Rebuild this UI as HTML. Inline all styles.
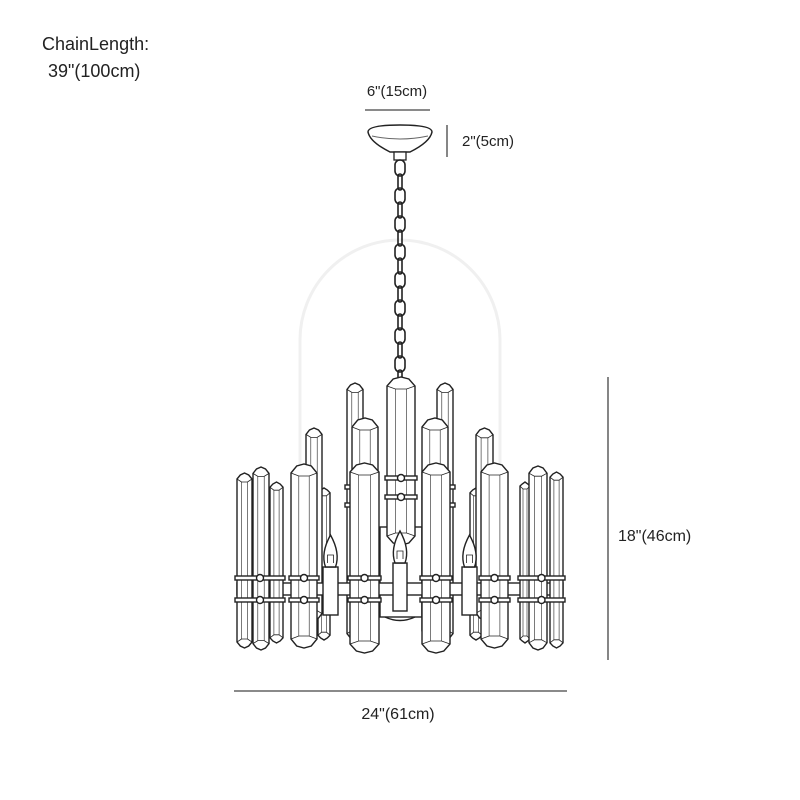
<!DOCTYPE html>
<html><head><meta charset="utf-8"><style>
html,body{margin:0;padding:0;background:#fff;}
svg{display:block;}
text{font-family:"Liberation Sans",sans-serif;fill:#222;}
</style></head><body>
<svg id="s" width="800" height="800" viewBox="0 0 800 800" xmlns="http://www.w3.org/2000/svg">
<path d="M300 520 V340 A100 100 0 0 1 500 340 V520" fill="none" stroke="#f0f0f0" stroke-width="3"/>
<text x="42" y="50" font-size="18">ChainLength:</text>
<text x="48" y="77" font-size="18">39"(100cm)</text>
<text x="397" y="96" font-size="15" text-anchor="middle">6"(15cm)</text>
<line x1="365" y1="110" x2="430" y2="110" stroke="#444" stroke-width="1.3"/>
<line x1="447" y1="125" x2="447" y2="157" stroke="#444" stroke-width="1.3"/>
<text x="462" y="146" font-size="15">2"(5cm)</text>
<line x1="608" y1="377" x2="608" y2="660" stroke="#444" stroke-width="1.3"/>
<text x="618" y="541" font-size="16">18"(46cm)</text>
<line x1="234" y1="691" x2="567" y2="691" stroke="#444" stroke-width="1.3"/>
<text x="398" y="719" font-size="16" text-anchor="middle">24"(61cm)</text>
<!-- canopy -->
<path d="M368 132 Q370 142 390 152 L410 152 Q430 142 432 132 Q432 125 400 125 Q368 125 368 132 Z" fill="#fff" stroke="#222" stroke-width="1.5"/>
<path d="M372 136 Q400 142 428 136" fill="none" stroke="#666" stroke-width="1"/>
<rect x="394" y="152" width="12" height="8" fill="#fff" stroke="#222" stroke-width="1.3"/>
<g id="chain" fill="none" stroke="#222" stroke-width="1.6"></g>
<g id="c" stroke="#222" stroke-width="1.4"></g>
</svg>
<script>
var ch=document.getElementById('chain'),ns='http://www.w3.org/2000/svg';
for(var y=160;y<380;y+=14){var e=document.createElementNS(ns,'rect');
var o=((y-160)/14)%2;e.setAttribute('x',o?398:395);e.setAttribute('y',y);e.setAttribute('width',o?4:10);e.setAttribute('height',16);e.setAttribute('rx',o?2:5);ch.appendChild(e);}
var g=document.getElementById('c');
function el(t,a){var e=document.createElementNS(ns,t);for(var k in a)e.setAttribute(k,a[k]);g.appendChild(e);return e;}
function cr(x1,x2,t,b){var w=x2-x1,m=x1+w/2,h=Math.min(9,w*0.4),q=w*0.22;
el('polygon',{points:[x1,t+h,x1+q,t+2,m,t,x2-q,t+2,x2,t+h,x2,b-h,x2-q,b-2,m,b,x1+q,b-2,x1,b-h].join(' '),fill:'#fff'});
el('polyline',{points:[x1,t+h,x1+w*.3,t+h+3,x2-w*.3,t+h+3,x2,t+h].join(' '),fill:'none','stroke-width':.8});
el('polyline',{points:[x1,b-h,x1+w*.3,b-h-3,x2-w*.3,b-h-3,x2,b-h].join(' '),fill:'none','stroke-width':.8});
el('line',{x1:x1+w*.3,y1:t+h+3,x2:x1+w*.3,y2:b-h-3,'stroke-width':.6});
el('line',{x1:x2-w*.3,y1:t+h+3,x2:x2-w*.3,y2:b-h-3,'stroke-width':.6});}
function ring(x1,x2,y){el('rect',{x:x1-2,y:y-2,width:x2-x1+4,height:4,fill:'#fff'});el('circle',{cx:(x1+x2)/2,cy:y,r:3.5,fill:'#fff'});}
el('rect',{x:380,y:527,width:42,height:90,fill:'#fff'});
cr(347,363,383,640);cr(437,453,383,640);
cr(318,330,488,640);cr(470,482,488,640);
cr(306,322,428,620);cr(476,493,428,620);
cr(387,415,377,545);ring(387,415,478);ring(387,415,497);
cr(352,378,418,640);cr(422,448,418,640);
ring(347,363,487);ring(347,363,505);ring(437,453,487);ring(437,453,505);
el('rect',{x:237,y:583,width:326,height:12,fill:'#fff'});
cr(270,283,482,643);cr(520,530,482,643);
cr(237,252,473,648);cr(253,269,467,650);
cr(550,563,472,648);cr(529,547,466,650);
cr(291,317,464,648);cr(481,508,463,648);
cr(350,379,463,653);cr(422,450,463,653);
[[237,283],[291,317],[350,379],[422,450],[481,508],[520,563]].forEach(function(p){ring(p[0],p[1],578);ring(p[0],p[1],600);});
[[323,338,567],[393,407,563],[462,477,567]].forEach(function(c){
var m=(c[0]+c[1])/2;
el('rect',{x:c[0],y:c[2],width:c[1]-c[0],height:48,fill:'#fff'});
el('path',{d:'M'+(m-5)+' '+c[2]+' Q'+(m-10)+' '+(c[2]-14)+' '+m+' '+(c[2]-32)+' Q'+(m+10)+' '+(c[2]-14)+' '+(m+5)+' '+c[2]+' Z',fill:'#fff'});
el('path',{d:'M'+(m-3)+' '+(c[2]-4)+' v-8 h6 v8',fill:'none','stroke-width':.8});});
el('path',{d:'M385 617 Q400 624 415 617',fill:'none'});
</script>
</body></html>
